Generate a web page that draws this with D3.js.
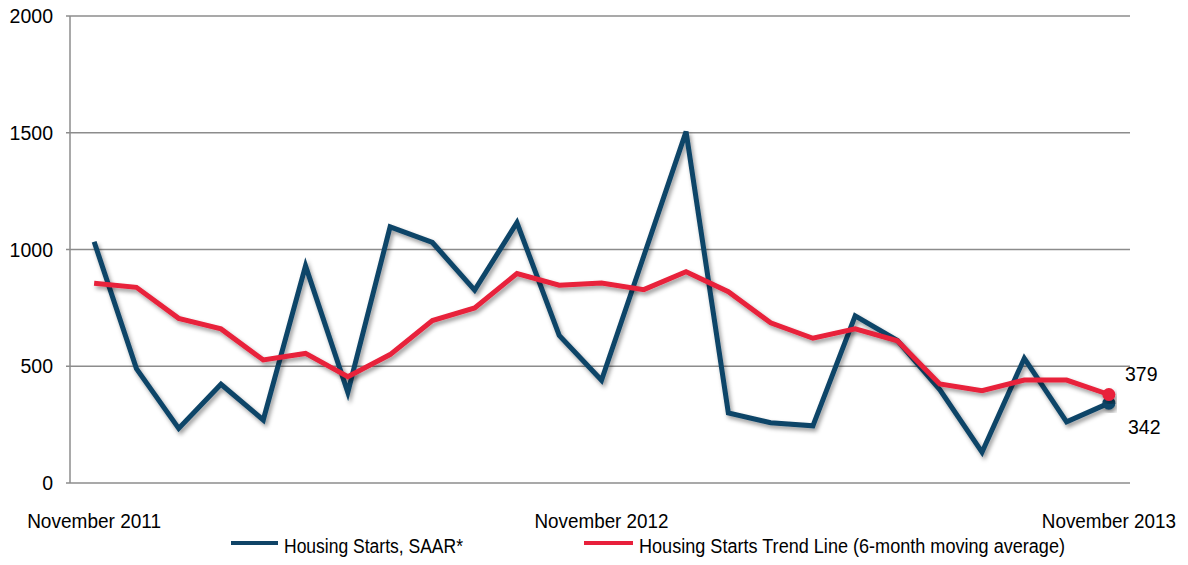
<!DOCTYPE html>
<html>
<head>
<meta charset="utf-8">
<script src="https://cdn.jsdelivr.net/npm/d3@7"></script>
<style>
  html, body { margin: 0; padding: 0; background: #fff; }
  svg { display: block; font-family: "Liberation Sans", Arial, sans-serif; }
</style>
</head>
<body>
<svg id="chart" width="1188" height="565"></svg>
<script>
// ---- data ----
const months = [
  "Nov 2011","Dec 2011","Jan 2012","Feb 2012","Mar 2012","Apr 2012","May 2012",
  "Jun 2012","Jul 2012","Aug 2012","Sep 2012","Oct 2012","Nov 2012","Dec 2012",
  "Jan 2013","Feb 2013","Mar 2013","Apr 2013","May 2013","Jun 2013","Jul 2013",
  "Aug 2013","Sep 2013","Oct 2013","Nov 2013"
];
const housingStarts = [1033, 490, 234, 423, 270, 930, 388, 1097, 1030, 826, 1115, 632, 440,
  972, 1505, 300, 258, 245, 716, 610, 400, 132, 534, 262, 342];
const trendLine = [855, 838, 705, 660, 527, 555, 455, 550, 696, 750, 897, 847, 856,
  828, 905, 819, 686, 620, 660, 609, 424, 395, 441, 441, 379];
const yTicks = [0, 500, 1000, 1500, 2000];
const xLabelIdx = [0, 12, 24];
const xLabels = ["November 2011", "November 2012", "November 2013"];
const seriesNames = ["Housing Starts, SAAR*", "Housing Starts Trend Line (6-month moving average)"];
const colors = ["#0f4467", "#e8203b"];

// ---- layout ----
const svg = d3.select("#chart");
const x = d3.scalePoint().domain(months).range([73, 1130]).padding(0.5);
const y = d3.scaleLinear().domain([0, 2000]).range([483, 16]);

const defs = svg.append("defs");
const f = defs.append("filter").attr("id", "shadow")
  .attr("x", "-10%").attr("y", "-10%").attr("width", "120%").attr("height", "130%");
f.append("feDropShadow").attr("dx", 2).attr("dy", 3).attr("stdDeviation", 2)
  .attr("flood-color", "#000").attr("flood-opacity", 0.4);

// gridlines
svg.append("g").selectAll("line").data(yTicks).join("line")
  .attr("x1", 66).attr("x2", 1130)
  .attr("y1", d => y(d)).attr("y2", d => y(d))
  .attr("stroke", "#8c8c8c").attr("stroke-width", 1.5);

// y axis line
svg.append("line").attr("x1", 70).attr("x2", 70).attr("y1", y(2000)).attr("y2", y(0))
  .attr("stroke", "#8c8c8c").attr("stroke-width", 1.5);

// y labels
svg.append("g").selectAll("text").data(yTicks).join("text")
  .attr("x", 53).attr("y", d => y(d)).attr("dy", "0.36em")
  .attr("text-anchor", "end").attr("font-size", 19.5).attr("fill", "#000")
  .text(d => d);

// x labels
svg.append("g").selectAll("text").data(xLabelIdx).join("text")
  .attr("x", d => x(months[d])).attr("y", 527.5)
  .attr("text-anchor", "middle").attr("font-size", 19.5).attr("fill", "#000")
  .attr("textLength", 134).attr("lengthAdjust", "spacingAndGlyphs")
  .text((d, i) => xLabels[i]);

// lines
const line = d3.line().x((d, i) => x(months[i])).y(d => y(d));
const seriesData = [housingStarts, trendLine];
seriesData.forEach((s, k) => {
  svg.append("path").datum(s)
    .attr("d", line)
    .attr("fill", "none")
    .attr("stroke", colors[k])
    .attr("stroke-width", 5)
    .attr("stroke-linejoin", "miter")
    .attr("filter", "url(#shadow)");
});
// end markers
seriesData.forEach((s, k) => {
  svg.append("circle")
    .attr("cx", x(months[months.length - 1]))
    .attr("cy", y(s[s.length - 1]))
    .attr("r", 6.5)
    .attr("fill", colors[k])
    .attr("filter", "url(#shadow)");
});

// end labels
svg.append("text").attr("x", 1125).attr("y", 380.5).attr("font-size", 19.5)
  .attr("fill", "#000").text(trendLine[trendLine.length - 1]);
svg.append("text").attr("x", 1128).attr("y", 434).attr("font-size", 19.5)
  .attr("fill", "#000").text(housingStarts[housingStarts.length - 1]);

// legend
const legend = [
  { x1: 231, x2: 278, tx: 284, tw: 179 },
  { x1: 584, x2: 633, tx: 639, tw: 426 }
];
legend.forEach((l, k) => {
  svg.append("line").attr("x1", l.x1).attr("x2", l.x2).attr("y1", 543).attr("y2", 543)
    .attr("stroke", colors[k]).attr("stroke-width", 4);
  svg.append("text").attr("x", l.tx).attr("y", 552.5).attr("font-size", 19.5)
    .attr("fill", "#000").attr("textLength", l.tw).attr("lengthAdjust", "spacingAndGlyphs")
    .text(seriesNames[k]);
});
</script>
</body>
</html>
